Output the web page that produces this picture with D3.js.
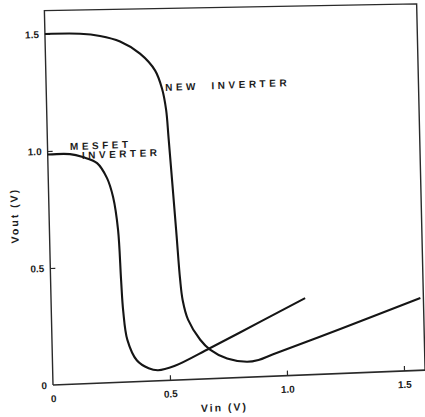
<!DOCTYPE html>
<html>
<head>
<meta charset="utf-8">
<script src="https://cdn.jsdelivr.net/npm/d3@7/dist/d3.min.js"></script>
<style>
  body { margin: 0; background: #fff; }
  text { font-family: "Liberation Sans", Arial, sans-serif; font-weight: bold; fill: #1c1c1c; }
</style>
</head>
<body>
<svg id="chart" width="425" height="417"></svg>
<script>
// Vin (V) / Vout (V)
var newVin  = [0, 0.15, 0.235, 0.32, 0.404, 0.467, 0.495, 0.51, 0.518, 0.541, 0.553, 0.562, 0.583, 0.633, 0.674, 0.746, 0.831, 0.88, 0.943, 1.232, 1.577];
var newVout = [1.5, 1.495, 1.482, 1.455, 1.40, 1.325, 1.245, 1.155, 1.03, 0.64, 0.43, 0.34, 0.256, 0.168, 0.124, 0.083, 0.066, 0.072, 0.094, 0.19, 0.309];

var mesVin  = [0, 0.095, 0.15, 0.21, 0.251, 0.275, 0.293, 0.301, 0.307, 0.322, 0.361, 0.41, 0.45, 0.52, 0.675, 0.89, 1.085];
var mesVout = [0.985, 0.983, 0.968, 0.94, 0.874, 0.792, 0.651, 0.437, 0.305, 0.18, 0.09, 0.055, 0.045, 0.06, 0.131, 0.234, 0.328];

var xTicks = [0, 0.5, 1.0, 1.5];
var xTickLabels = ['0', '0.5', '1.0', '1.5'];
var yTicks = [0, 0.5, 1.0, 1.5];
var yTickLabels = ['0', '0.5', '1.0', '1.5'];

var xMax = 1.59, yMax = 1.6, yMaxRight = 1.565;
var pxPerVolt = 234;

var svg = d3.select('#chart');

// scanned page is slightly skewed, so the whole plot sits in a sheared frame
var g = svg.append('g')
  .attr('transform', 'matrix(1,-0.04,0.023,1,53,385)');

var x = d3.scaleLinear().domain([0, xMax]).range([0, xMax * pxPerVolt]);
var y = d3.scaleLinear().domain([0, yMax]).range([0, -yMax * pxPerVolt]);

// frame
var frame = [[0, 0], [0, yMax], [xMax, yMaxRight], [xMax, 0]];
g.append('path')
  .attr('d', d3.line().x(function(d) { return x(d[0]); }).y(function(d) { return y(d[1]); })(frame))
  .attr('fill', 'none')
  .attr('stroke', '#2a2a2a')
  .attr('stroke-width', 1.4);

// bottom line runs a bit past the right edge
g.append('line')
  .attr('x1', x(0)).attr('y1', 0)
  .attr('x2', x(1.61)).attr('y2', 0)
  .attr('stroke', '#2a2a2a')
  .attr('stroke-width', 1.6);

var xAxis = d3.axisBottom(x)
  .tickValues(xTicks)
  .tickFormat(function(d, i) { return xTickLabels[i]; })
  .tickSizeInner(-5)
  .tickSizeOuter(0)
  .tickPadding(10);

var yAxis = d3.axisLeft(y)
  .tickValues(yTicks)
  .tickFormat(function(d, i) { return yTickLabels[i]; })
  .tickSizeInner(-5)
  .tickSizeOuter(0)
  .tickPadding(6);

var gx = g.append('g').call(xAxis);
var gy = g.append('g').call(yAxis);

[gx, gy].forEach(function(a) {
  a.select('.domain').remove();
  a.selectAll('line').attr('stroke', '#2a2a2a').attr('stroke-width', 1.2);
  a.selectAll('text')
    .attr('fill', '#1c1c1c')
    .style('font-family', '"Liberation Sans", Arial, sans-serif')
    .style('font-weight', 'bold')
    .style('font-size', '10px');
});
gx.selectAll('.tick').filter(function(d) { return d === 0; }).select('line').remove();
gy.selectAll('.tick').filter(function(d) { return d === 0; }).select('line').remove();

// curves
var line = d3.line()
  .x(function(d) { return x(d[0]); })
  .y(function(d) { return y(d[1]); })
  .curve(d3.curveCatmullRom.alpha(0.5));

var series = [
  { vin: newVin, vout: newVout },
  { vin: mesVin, vout: mesVout }
];

g.selectAll('path.curve')
  .data(series)
  .enter().append('path')
  .attr('class', 'curve')
  .attr('d', function(s) { return line(s.vin.map(function(v, i) { return [v, s.vout[i]]; })); })
  .attr('fill', 'none')
  .attr('stroke', '#151515')
  .attr('stroke-width', 2.1);

// curve labels
var labels = [
  { text: 'NEW  INVERTER', vx: 0.508, vy: 1.236 },
  { text: 'MESFET', vx: 0.096, vy: 1.0 },
  { text: 'INVERTER', vx: 0.146, vy: 0.96 }
];

g.selectAll('text.lbl')
  .data(labels)
  .enter().append('text')
  .attr('class', 'lbl')
  .attr('x', function(d) { return x(d.vx); })
  .attr('y', function(d) { return y(d.vy); })
  .style('font-size', '10px')
  .style('letter-spacing', '3.5px')
  .style('white-space', 'pre')
  .text(function(d) { return d.text; });

// axis titles
g.append('text')
  .attr('x', x(0.73))
  .attr('y', 33)
  .attr('text-anchor', 'middle')
  .style('font-size', '10.5px')
  .style('letter-spacing', '2px')
  .text('Vin (V)');

g.append('text')
  .attr('transform', 'translate(-31,' + y(0.73) + ') rotate(-90)')
  .attr('text-anchor', 'middle')
  .style('font-size', '10.5px')
  .style('letter-spacing', '2px')
  .text('Vout (V)');
</script>
</body>
</html>
